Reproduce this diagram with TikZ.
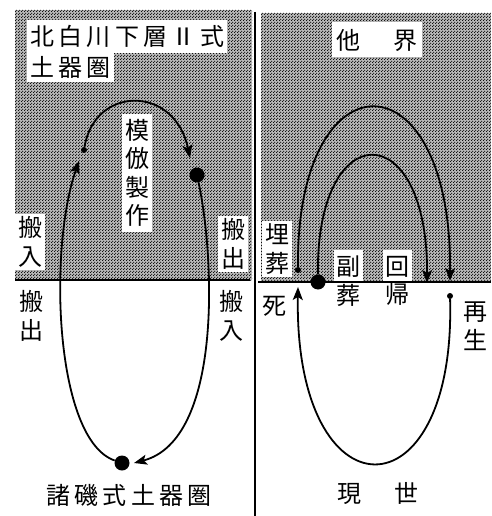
\documentclass[tikz,border=0pt]{standalone}
\usepackage{fontspec}
\newfontfamily\jp{Noto Sans CJK JP}[LetterSpace=18]
\newfontfamily\jpv{Noto Sans CJK JP}
\usetikzlibrary{arrows.meta,patterns}
\pgfdeclarepatternformonly{halftone}{\pgfpointorigin}{\pgfpoint{3pt}{3pt}}{\pgfpoint{3pt}{3pt}}{%
  \pgfpathcircle{\pgfpoint{0.75pt}{0.75pt}}{0.74pt}%
  \pgfpathcircle{\pgfpoint{2.25pt}{2.25pt}}{0.74pt}%
  \pgfusepath{fill}}
\begin{document}
\begin{tikzpicture}[x=1pt,y=-1pt,
  lbl/.style={font=\jp\fontsize{24}{28}\selectfont, inner xsep=3pt, inner ysep=4pt},
  vlbl/.style={font=\jpv\fontsize{24}{28.5}\selectfont, align=center, inner xsep=3pt, inner ysep=3pt},
  wbox/.style={fill=white},
  curve/.style={line width=1.8pt},
  arr/.style={-{Stealth[length=13pt,width=10pt,inset=3pt]}},
  bigdot/.style={circle, fill=black, inner sep=0pt, minimum size=15pt},
  smalldot/.style={circle, fill=black, inner sep=0pt, minimum size=6pt},
  shade/.style={fill=black!28, postaction={pattern=halftone, pattern color=black}},
  frame/.style={line width=1.8pt}
]
\useasboundingbox (0,0) rectangle (491,516);
% shaded upper zones
\path[shade] (15,10) rectangle (252,280);
\path[shade] (261,13) rectangle (491,282);
% frame lines
\draw[frame] (15,280) -- (250,280);
\draw[frame] (258,282) -- (491,282);
\draw[frame] (255,12) -- (255,516);

% ---------- left panel labels ----------
\node[lbl, wbox, anchor=north west, minimum height=33pt] (t1) at (27,20) {北白川下層Ⅱ式};
\node[lbl, wbox, anchor=north west, minimum height=30pt] (t2) at (27,52) {土器圏};
\node[vlbl, wbox, inner ysep=5pt] (mf) at (137,173) {模\\倣\\製\\作};
\node[vlbl, wbox, minimum width=30pt] (inL) at (30,242) {搬\\入};
\node[vlbl, wbox] (outR) at (233,244) {搬\\出};
\node[vlbl] (outL) at (31,316) {搬\\出};
\node[vlbl] (inR) at (231,316) {搬\\入};
\node[lbl, inner xsep=0pt] (bot) at (129,495) {諸磯式土器圏};

% ---------- left panel loop ----------
\node[bigdot] (bd) at (122,463) {};
\node[smalldot] (sd1) at (84,150) {};
\node[bigdot] (bd2) at (197,175) {};
\coordinate (a1) at (79,161);
\coordinate (a2) at (190,158);
\coordinate (a3) at (134,463);
\draw[curve,arr] (bd) .. controls (55,440) and (48,250) .. (a1);
\draw[curve,arr] (sd1) .. controls (95,85) and (175,85) .. (a2);
\draw[curve,arr] (bd2) .. controls (215,260) and (222,440) .. (a3);

% ---------- right panel labels ----------
\node[lbl, wbox, inner xsep=5pt, minimum height=35pt] (ta) at (377,40) {他　界};
\node[vlbl, wbox] (bur) at (277,249) {埋\\葬};
\node[vlbl] (die) at (274,306) {死};
\fill[white] (334,250) rectangle (363,281);
\fill[white] (383,250) rectangle (412,281);
\node[vlbl] (fuk) at (348,281) {副\\葬};
\node[vlbl] (kai) at (397,281) {回\\帰};
\node[vlbl] (reb) at (475,326) {再\\生};
\node[lbl, inner xsep=0pt] (gen) at (378,494) {現　世};

% ---------- right panel loops ----------
\node[smalldot] (sd2) at (298,270) {};
\node[bigdot] (bd3) at (318,282) {};
\node[smalldot] (sd3) at (450,296) {};
\coordinate (a4) at (450,281);
\coordinate (a5) at (427,283);
\coordinate (a6) at (298,287);
\draw[curve,arr] (sd2) .. controls (296,52) and (452,52) .. (a4);
\draw[curve,arr] (bd3) .. controls (316,115) and (428,115) .. (a5);
\draw[curve,arr] (sd3) .. controls (456,520) and (294,520) .. (a6);
\end{tikzpicture}
\end{document}
